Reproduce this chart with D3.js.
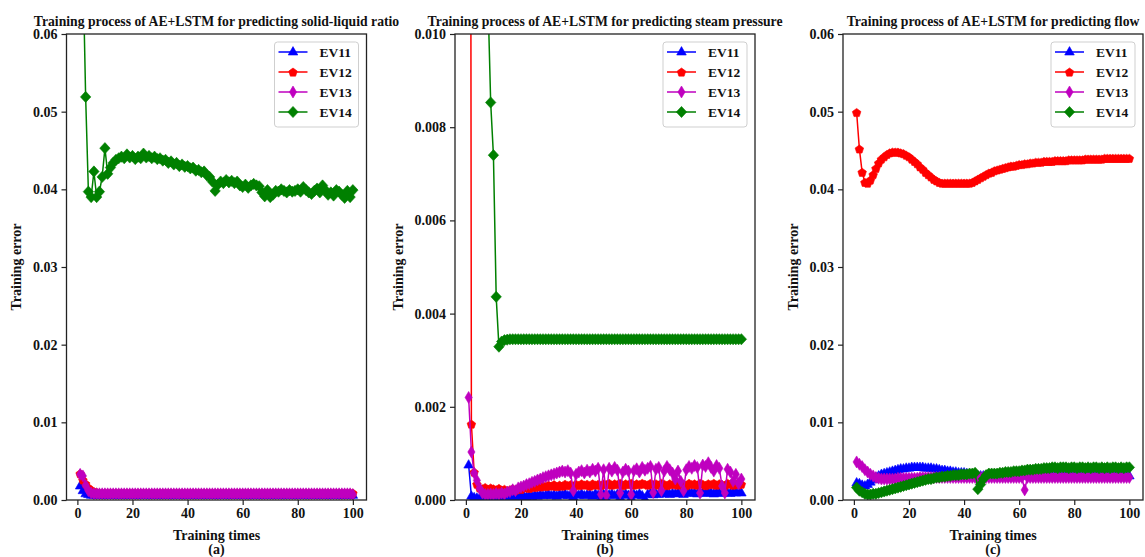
<!DOCTYPE html>
<html>
<head>
<meta charset="utf-8">
<script src="https://cdn.jsdelivr.net/npm/d3@7"></script>
<style>
body { margin: 0; background: #fff; }
svg text { font-family: "Liberation Serif", "Times New Roman", serif; font-weight: bold; fill: #111; }
</style>
</head>
<body>
<svg id="chart" width="1145" height="557"></svg>
<script>
// Overall size of the figure
var width = 1145;
var height = 557;

// Categories / labels
var epochs = d3.range(1, 101);
var seriesNames = ['EV11', 'EV12', 'EV13', 'EV14'];
var seriesColors = ['#0000ff', '#ff0000', '#bf00bf', '#008000'];
var xTicks = [0, 20, 40, 60, 80, 100];
var yTicksWide = [0, 0.01, 0.02, 0.03, 0.04, 0.05, 0.06];
var yTicksNarrow = [0, 0.002, 0.004, 0.006, 0.008, 0.010];
var panelTitles = ['Training process of AE+LSTM for predicting solid-liquid ratio',
                   'Training process of AE+LSTM for predicting steam pressure',
                   'Training process of AE+LSTM for predicting flow'];
var panelLetters = ['(a)', '(b)', '(c)'];

// (a) solid-liquid ratio
var aEV11 = [0.0018,0.0012,0.0008,0.0007,0.0006,0.0006,0.0006,0.0006,0.0006,0.0006,
             0.0006,0.0006,0.0006,0.0006,0.0006,0.0006,0.0006,0.0006,0.0006,0.0006,
             0.0006,0.0006,0.0006,0.0006,0.0006,0.0006,0.0006,0.0006,0.0006,0.0006,
             0.0006,0.0006,0.0006,0.0006,0.0006,0.0006,0.0006,0.0006,0.0006,0.0006,
             0.0006,0.0006,0.0006,0.0006,0.0006,0.0006,0.0006,0.0006,0.0006,0.0006,
             0.0006,0.0006,0.0006,0.0006,0.0006,0.0006,0.0006,0.0006,0.0006,0.0006,
             0.0006,0.0006,0.0006,0.0006,0.0006,0.0006,0.0006,0.0006,0.0006,0.0006,
             0.0006,0.0006,0.0006,0.0006,0.0006,0.0006,0.0006,0.0006,0.0006,0.0006,
             0.0006,0.0006,0.0006,0.0006,0.0006,0.0006,0.0006,0.0006,0.0006,0.0006,
             0.0006,0.0006,0.0006,0.0006,0.0006,0.0006,0.0006,0.0006,0.0006,0.0006];
var aEV12 = [0.0034,0.0026,0.0021,0.0016,0.0013,0.0011,0.0010,0.0009,0.0009,0.0009,
             0.0009,0.0009,0.0009,0.0009,0.0009,0.0009,0.0009,0.0009,0.0009,0.0009,
             0.0009,0.0009,0.0009,0.0009,0.0009,0.0009,0.0009,0.0009,0.0009,0.0009,
             0.0009,0.0009,0.0009,0.0009,0.0009,0.0009,0.0009,0.0009,0.0009,0.0009,
             0.0009,0.0009,0.0009,0.0009,0.0009,0.0009,0.0009,0.0009,0.0009,0.0009,
             0.0009,0.0009,0.0009,0.0009,0.0009,0.0009,0.0009,0.0009,0.0009,0.0009,
             0.0009,0.0009,0.0009,0.0009,0.0009,0.0009,0.0009,0.0009,0.0009,0.0009,
             0.0009,0.0009,0.0009,0.0009,0.0009,0.0009,0.0009,0.0009,0.0009,0.0009,
             0.0009,0.0009,0.0009,0.0009,0.0009,0.0009,0.0009,0.0009,0.0009,0.0009,
             0.0009,0.0009,0.0009,0.0009,0.0009,0.0009,0.0009,0.0009,0.0009,0.0009];
var aEV13 = [0.0033,0.0031,0.0019,0.0012,0.0009,0.0008,0.0008,0.0008,0.0008,0.0008,
             0.0008,0.0008,0.0008,0.0008,0.0008,0.0008,0.0008,0.0008,0.0008,0.0008,
             0.0008,0.0008,0.0008,0.0008,0.0008,0.0008,0.0008,0.0008,0.0008,0.0008,
             0.0008,0.0008,0.0008,0.0008,0.0008,0.0008,0.0008,0.0008,0.0008,0.0008,
             0.0008,0.0008,0.0008,0.0008,0.0008,0.0008,0.0008,0.0008,0.0008,0.0008,
             0.0008,0.0008,0.0008,0.0008,0.0008,0.0008,0.0008,0.0008,0.0008,0.0008,
             0.0008,0.0008,0.0008,0.0008,0.0008,0.0008,0.0008,0.0008,0.0008,0.0008,
             0.0008,0.0008,0.0008,0.0008,0.0008,0.0008,0.0008,0.0008,0.0008,0.0008,
             0.0008,0.0008,0.0008,0.0008,0.0008,0.0008,0.0008,0.0008,0.0008,0.0008,
             0.0008,0.0008,0.0008,0.0008,0.0008,0.0008,0.0008,0.0008,0.0008,0.0007];
var aEV14 = [0.0950,0.0690,0.0519,0.0397,0.0390,0.0423,0.0390,0.0397,0.0416,0.0453,
             0.0420,0.0428,0.0434,0.0438,0.0440,0.0442,0.0440,0.0445,0.0441,0.0443,
             0.0439,0.0442,0.0440,0.0446,0.0441,0.0443,0.0440,0.0442,0.0439,0.0440,
             0.0437,0.0438,0.0434,0.0436,0.0432,0.0434,0.0430,0.0432,0.0429,0.0430,
             0.0427,0.0428,0.0424,0.0425,0.0422,0.0423,0.0418,0.0416,0.0410,0.0398,
             0.0406,0.0410,0.0408,0.0412,0.0409,0.0411,0.0408,0.0410,0.0405,0.0403,
             0.0406,0.0402,0.0405,0.0407,0.0405,0.0404,0.0396,0.0391,0.0399,0.0390,
             0.0393,0.0398,0.0397,0.0400,0.0398,0.0396,0.0399,0.0397,0.0398,0.0400,
             0.0397,0.0403,0.0399,0.0396,0.0394,0.0398,0.0401,0.0396,0.0405,0.0399,
             0.0393,0.0396,0.0392,0.0399,0.0397,0.0393,0.0389,0.0398,0.0390,0.0399];

// (b) steam pressure
var bEV11 = [0.00075,0.00008,0.00005,0.00004,0.00004,0.00003,0.00003,0.00004,0.00003,0.00004,
             0.00004,0.00005,0.00003,0.00006,0.00004,0.00005,0.00006,0.00004,0.00007,0.00006,
             0.00008,0.00006,0.00009,0.00007,0.00010,0.00008,0.00011,0.00009,0.00010,0.00012,
             0.00009,0.00011,0.00008,0.00012,0.00010,0.00013,0.00009,0.00011,0.00006,0.00012,
             0.00010,0.00013,0.00009,0.00011,0.00012,0.00008,0.00013,0.00010,0.00004,0.00012,
             0.00003,0.00011,0.00013,0.00009,0.00012,0.00005,0.00011,0.00013,0.00010,0.00004,
             0.00012,0.00010,0.00013,0.00009,0.00002,0.00012,0.00014,0.00011,0.00013,0.00012,
             0.00014,0.00013,0.00015,0.00012,0.00014,0.00013,0.00015,0.00014,0.00012,0.00015,
             0.00016,0.00014,0.00015,0.00013,0.00016,0.00015,0.00014,0.00016,0.00015,0.00013,
             0.00016,0.00015,0.00014,0.00016,0.00015,0.00014,0.00016,0.00015,0.00016,0.00015];
var bEV12 = [0.05000,0.00163,0.00060,0.00034,0.00026,0.00024,0.00027,0.00023,0.00026,0.00024,
             0.00022,0.00025,0.00021,0.00023,0.00020,0.00022,0.00024,0.00021,0.00025,0.00023,
             0.00026,0.00028,0.00025,0.00029,0.00027,0.00030,0.00028,0.00031,0.00029,0.00032,
             0.00030,0.00033,0.00029,0.00032,0.00030,0.00034,0.00031,0.00033,0.00030,0.00034,
             0.00031,0.00035,0.00032,0.00034,0.00030,0.00035,0.00032,0.00034,0.00031,0.00035,
             0.00033,0.00036,0.00032,0.00035,0.00033,0.00036,0.00031,0.00035,0.00033,0.00036,
             0.00032,0.00035,0.00033,0.00036,0.00034,0.00032,0.00036,0.00033,0.00035,0.00032,
             0.00036,0.00034,0.00031,0.00035,0.00033,0.00036,0.00032,0.00035,0.00034,0.00031,
             0.00036,0.00033,0.00035,0.00032,0.00036,0.00034,0.00031,0.00035,0.00033,0.00036,
             0.00032,0.00035,0.00033,0.00031,0.00036,0.00034,0.00032,0.00035,0.00033,0.00034];
var bEV13 = [0.00220,0.00103,0.00058,0.00042,0.00025,0.00015,0.00012,0.00012,0.00013,0.00012,
             0.00014,0.00012,0.00015,0.00013,0.00017,0.00018,0.00022,0.00020,0.00026,0.00028,
             0.00030,0.00033,0.00035,0.00038,0.00040,0.00043,0.00045,0.00048,0.00050,0.00052,
             0.00054,0.00056,0.00058,0.00060,0.00062,0.00060,0.00063,0.00058,0.00020,0.00055,
             0.00060,0.00063,0.00058,0.00064,0.00060,0.00066,0.00062,0.00068,0.00012,0.00065,
             0.00010,0.00068,0.00062,0.00070,0.00064,0.00015,0.00060,0.00066,0.00062,0.00012,
             0.00063,0.00067,0.00060,0.00070,0.00064,0.00068,0.00072,0.00016,0.00066,0.00070,
             0.00020,0.00062,0.00072,0.00065,0.00058,0.00045,0.00062,0.00040,0.00020,0.00065,
             0.00072,0.00068,0.00074,0.00070,0.00015,0.00075,0.00072,0.00080,0.00070,0.00062,
             0.00074,0.00068,0.00030,0.00015,0.00066,0.00060,0.00040,0.00055,0.00035,0.00045];
var bEV14 = [0.08000,0.06000,0.04500,0.03500,0.02500,0.01800,0.01400,0.01080,0.00853,0.00740,
             0.00436,0.00329,0.00340,0.00343,0.00344,0.00345,0.00345,0.00345,0.00345,0.00345,
             0.00345,0.00345,0.00345,0.00345,0.00345,0.00345,0.00345,0.00345,0.00345,0.00345,
             0.00345,0.00345,0.00345,0.00345,0.00345,0.00345,0.00345,0.00345,0.00345,0.00345,
             0.00345,0.00345,0.00345,0.00345,0.00345,0.00345,0.00345,0.00345,0.00345,0.00345,
             0.00345,0.00345,0.00345,0.00345,0.00345,0.00345,0.00345,0.00345,0.00345,0.00345,
             0.00345,0.00345,0.00345,0.00345,0.00345,0.00345,0.00345,0.00345,0.00345,0.00345,
             0.00345,0.00345,0.00345,0.00345,0.00345,0.00345,0.00345,0.00345,0.00345,0.00345,
             0.00345,0.00345,0.00345,0.00345,0.00345,0.00345,0.00345,0.00345,0.00345,0.00345,
             0.00345,0.00345,0.00345,0.00345,0.00345,0.00345,0.00345,0.00345,0.00345,0.00345];

// (c) flow
var cEV11 = [0.0022,0.0021,0.0019,0.0018,0.0020,0.0023,0.0026,0.0029,0.0031,0.0033,
             0.0034,0.0035,0.0036,0.0037,0.0038,0.0039,0.0040,0.0040,0.0041,0.0041,
             0.0042,0.0042,0.0042,0.0042,0.0042,0.0041,0.0041,0.0041,0.0040,0.0040,
             0.0039,0.0038,0.0038,0.0037,0.0037,0.0036,0.0036,0.0035,0.0035,0.0035,
             0.0034,0.0033,0.0033,0.0032,0.0031,0.0031,0.0031,0.0031,0.0031,0.0031,
             0.0031,0.0031,0.0031,0.0031,0.0031,0.0031,0.0031,0.0031,0.0031,0.0031,
             0.0031,0.0031,0.0031,0.0031,0.0031,0.0031,0.0031,0.0031,0.0031,0.0031,
             0.0031,0.0031,0.0031,0.0031,0.0031,0.0031,0.0031,0.0031,0.0031,0.0031,
             0.0031,0.0031,0.0031,0.0031,0.0031,0.0031,0.0031,0.0031,0.0031,0.0031,
             0.0031,0.0031,0.0031,0.0031,0.0031,0.0031,0.0031,0.0031,0.0031,0.0031];
var cEV12 = [0.0499,0.0452,0.0422,0.0409,0.0408,0.0412,0.0419,0.0427,0.0434,0.0439,
             0.0442,0.0445,0.0447,0.0448,0.0448,0.0448,0.0447,0.0446,0.0444,0.0442,
             0.0439,0.0436,0.0433,0.0429,0.0426,0.0422,0.0419,0.0416,0.0413,0.0411,
             0.0409,0.0408,0.0408,0.0408,0.0408,0.0408,0.0408,0.0408,0.0408,0.0408,
             0.0408,0.0408,0.0409,0.0411,0.0413,0.0415,0.0417,0.0419,0.0421,0.0422,
             0.0424,0.0425,0.0426,0.0427,0.0428,0.0429,0.0430,0.0430,0.0431,0.0432,
             0.0432,0.0433,0.0433,0.0434,0.0434,0.0435,0.0435,0.0435,0.0436,0.0436,
             0.0436,0.0436,0.0437,0.0437,0.0437,0.0437,0.0437,0.0438,0.0438,0.0438,
             0.0438,0.0438,0.0438,0.0439,0.0439,0.0439,0.0439,0.0439,0.0439,0.0439,
             0.0440,0.0440,0.0440,0.0440,0.0440,0.0440,0.0440,0.0440,0.0440,0.0440];
var cEV13 = [0.0049,0.0046,0.0043,0.0039,0.0036,0.0033,0.0031,0.0029,0.0028,0.0027,
             0.0027,0.0027,0.0027,0.0027,0.0027,0.0028,0.0028,0.0028,0.0028,0.0028,
             0.0028,0.0028,0.0028,0.0029,0.0029,0.0029,0.0029,0.0029,0.0029,0.0029,
             0.0029,0.0029,0.0029,0.0029,0.0029,0.0029,0.0029,0.0029,0.0029,0.0029,
             0.0029,0.0029,0.0029,0.0029,0.0029,0.0029,0.0029,0.0029,0.0029,0.0029,
             0.0029,0.0029,0.0029,0.0029,0.0029,0.0029,0.0029,0.0029,0.0029,0.0029,
             0.0029,0.0013,0.0029,0.0029,0.0029,0.0029,0.0029,0.0029,0.0029,0.0029,
             0.0029,0.0029,0.0029,0.0029,0.0029,0.0029,0.0029,0.0029,0.0029,0.0029,
             0.0029,0.0029,0.0029,0.0029,0.0029,0.0029,0.0029,0.0029,0.0029,0.0029,
             0.0029,0.0029,0.0029,0.0029,0.0029,0.0029,0.0029,0.0029,0.0029,0.0029];
var cEV14 = [0.0016,0.0012,0.0010,0.0008,0.0007,0.0007,0.0008,0.0008,0.0009,0.0010,
             0.0011,0.0012,0.0013,0.0014,0.0015,0.0016,0.0017,0.0018,0.0019,0.0020,
             0.0021,0.0022,0.0023,0.0024,0.0025,0.0026,0.0027,0.0027,0.0028,0.0029,
             0.0029,0.0030,0.0030,0.0031,0.0031,0.0032,0.0032,0.0032,0.0033,0.0033,
             0.0033,0.0034,0.0034,0.0035,0.0014,0.0020,0.0027,0.0032,0.0034,0.0034,
             0.0034,0.0034,0.0035,0.0035,0.0036,0.0036,0.0036,0.0037,0.0037,0.0037,
             0.0038,0.0038,0.0039,0.0039,0.0039,0.0040,0.0040,0.0040,0.0041,0.0041,
             0.0041,0.0042,0.0042,0.0041,0.0042,0.0042,0.0042,0.0041,0.0042,0.0042,
             0.0041,0.0042,0.0042,0.0041,0.0042,0.0041,0.0042,0.0042,0.0041,0.0042,
             0.0041,0.0042,0.0041,0.0042,0.0042,0.0041,0.0042,0.0041,0.0042,0.0042];

// Panel layout
var plotTop = 34;
var plotBottom = 500;
var plotWidth = 300;
var plotHeight = plotBottom - plotTop;

var panels = [
    { left: 66.5, yMax: 0.06, ticks: yTicksWide, fmt: '.2f', ylabelOffset: 50,
      data: [aEV11, aEV12, aEV13, aEV14] },
    { left: 455, yMax: 0.010, ticks: yTicksNarrow, fmt: '.3f', ylabelOffset: 57,
      data: [bEV11, bEV12, bEV13, bEV14] },
    { left: 843, yMax: 0.06, ticks: yTicksWide, fmt: '.2f', ylabelOffset: 50,
      data: [cEV11, cEV12, cEV13, cEV14] }
];

// Marker shapes: ^ (triangle), p (pentagon), d (thin diamond), D (diamond)
function markerPath(i) {
    if (i === 0) return 'M0,-5.4L4.8,3L-4.8,3Z';
    if (i === 1) {
        var pts = d3.range(5).map(function(k) {
            var a = -Math.PI / 2 + k * 2 * Math.PI / 5;
            return [4.5 * Math.cos(a), 4.5 * Math.sin(a) + 0.5];
        });
        return 'M' + pts.join('L') + 'Z';
    }
    if (i === 2) return 'M0,-6L3.6,0L0,6L-3.6,0Z';
    return 'M0,-5.6L5.2,0L0,5.6L-5.2,0Z';
}

var svg = d3.select('#chart');
svg.append('rect').attr('width', width).attr('height', height).attr('fill', '#fff');

panels.forEach(function(p, pi) {
    var g = svg.append('g').attr('transform', 'translate(' + p.left + ',' + plotTop + ')');

    var x = d3.scaleLinear().domain([-3.95, 104.95]).range([0, plotWidth]);
    var y = d3.scaleLinear().domain([0, p.yMax]).range([plotHeight, 0]);

    svg.append('clipPath').attr('id', 'clip' + pi)
        .append('rect').attr('width', plotWidth).attr('height', plotHeight);

    var plot = g.append('g').attr('clip-path', 'url(#clip' + pi + ')');

    var line = d3.line()
        .x(function(d, i) { return x(epochs[i]); })
        .y(function(d) { return y(d); });

    p.data.forEach(function(values, si) {
        plot.append('path')
            .datum(values)
            .attr('fill', 'none')
            .attr('stroke', seriesColors[si])
            .attr('stroke-width', 1.5)
            .attr('d', line);

        plot.append('g').selectAll('path')
            .data(values)
            .enter()
            .append('path')
            .attr('transform', function(d, i) { return 'translate(' + x(epochs[i]) + ',' + y(d) + ')'; })
            .attr('d', markerPath(si))
            .attr('fill', seriesColors[si])
            .attr('stroke', seriesColors[si])
            .attr('stroke-width', 0.6);
    });

    // Axes
    var xAxis = g.append('g')
        .attr('transform', 'translate(0,' + plotHeight + ')')
        .call(d3.axisBottom(x).tickValues(xTicks).tickSize(5).tickPadding(3));
    var yAxis = g.append('g')
        .call(d3.axisLeft(y).tickValues(p.ticks).tickFormat(d3.format(p.fmt)).tickSize(5).tickPadding(4));

    [xAxis, yAxis].forEach(function(ax) {
        ax.attr('font-family', null).attr('font-size', null);
        ax.select('.domain').remove();
        ax.selectAll('.tick line').attr('stroke', '#222').attr('stroke-width', 1.2);
        ax.selectAll('.tick text').style('font-size', '14px');
    });

    // Frame
    g.append('rect')
        .attr('width', plotWidth).attr('height', plotHeight)
        .attr('fill', 'none').attr('stroke', '#222').attr('stroke-width', 1.3);

    // Legend
    var lg = g.append('g').attr('transform', 'translate(' + (plotWidth - 92) + ',8)');
    lg.append('rect')
        .attr('width', 84).attr('height', 85).attr('rx', 3)
        .attr('fill', '#fff').attr('fill-opacity', 0.8)
        .attr('stroke', '#cfcfcf').attr('stroke-width', 1);
    seriesNames.forEach(function(name, si) {
        var ly = 10 + si * 20;
        lg.append('line')
            .attr('x1', 4).attr('x2', 33).attr('y1', ly).attr('y2', ly)
            .attr('stroke', seriesColors[si]).attr('stroke-width', 1.5);
        lg.append('path')
            .attr('transform', 'translate(18.5,' + ly + ')')
            .attr('d', markerPath(si))
            .attr('fill', seriesColors[si]).attr('stroke', seriesColors[si]).attr('stroke-width', 0.6);
        lg.append('text')
            .attr('x', 45).attr('y', ly).attr('dy', '0.35em')
            .style('font-size', '13.5px')
            .text(name);
    });

    // Titles and axis labels
    g.append('text')
        .attr('x', plotWidth / 2).attr('y', -8)
        .attr('text-anchor', 'middle')
        .style('font-size', '13.7px')
        .text(panelTitles[pi]);

    g.append('text')
        .attr('x', plotWidth / 2).attr('y', 540 - plotTop)
        .attr('text-anchor', 'middle')
        .style('font-size', '14px')
        .text('Training times');

    g.append('text')
        .attr('x', plotWidth / 2).attr('y', 554 - plotTop)
        .attr('text-anchor', 'middle')
        .style('font-size', '14px')
        .text(panelLetters[pi]);

    g.append('text')
        .attr('transform', 'translate(' + (-p.ylabelOffset) + ',' + (plotHeight / 2) + ') rotate(-90)')
        .attr('text-anchor', 'middle')
        .attr('dy', '0.35em')
        .style('font-size', '14px')
        .text('Training error');
});
</script>
</body>
</html>
